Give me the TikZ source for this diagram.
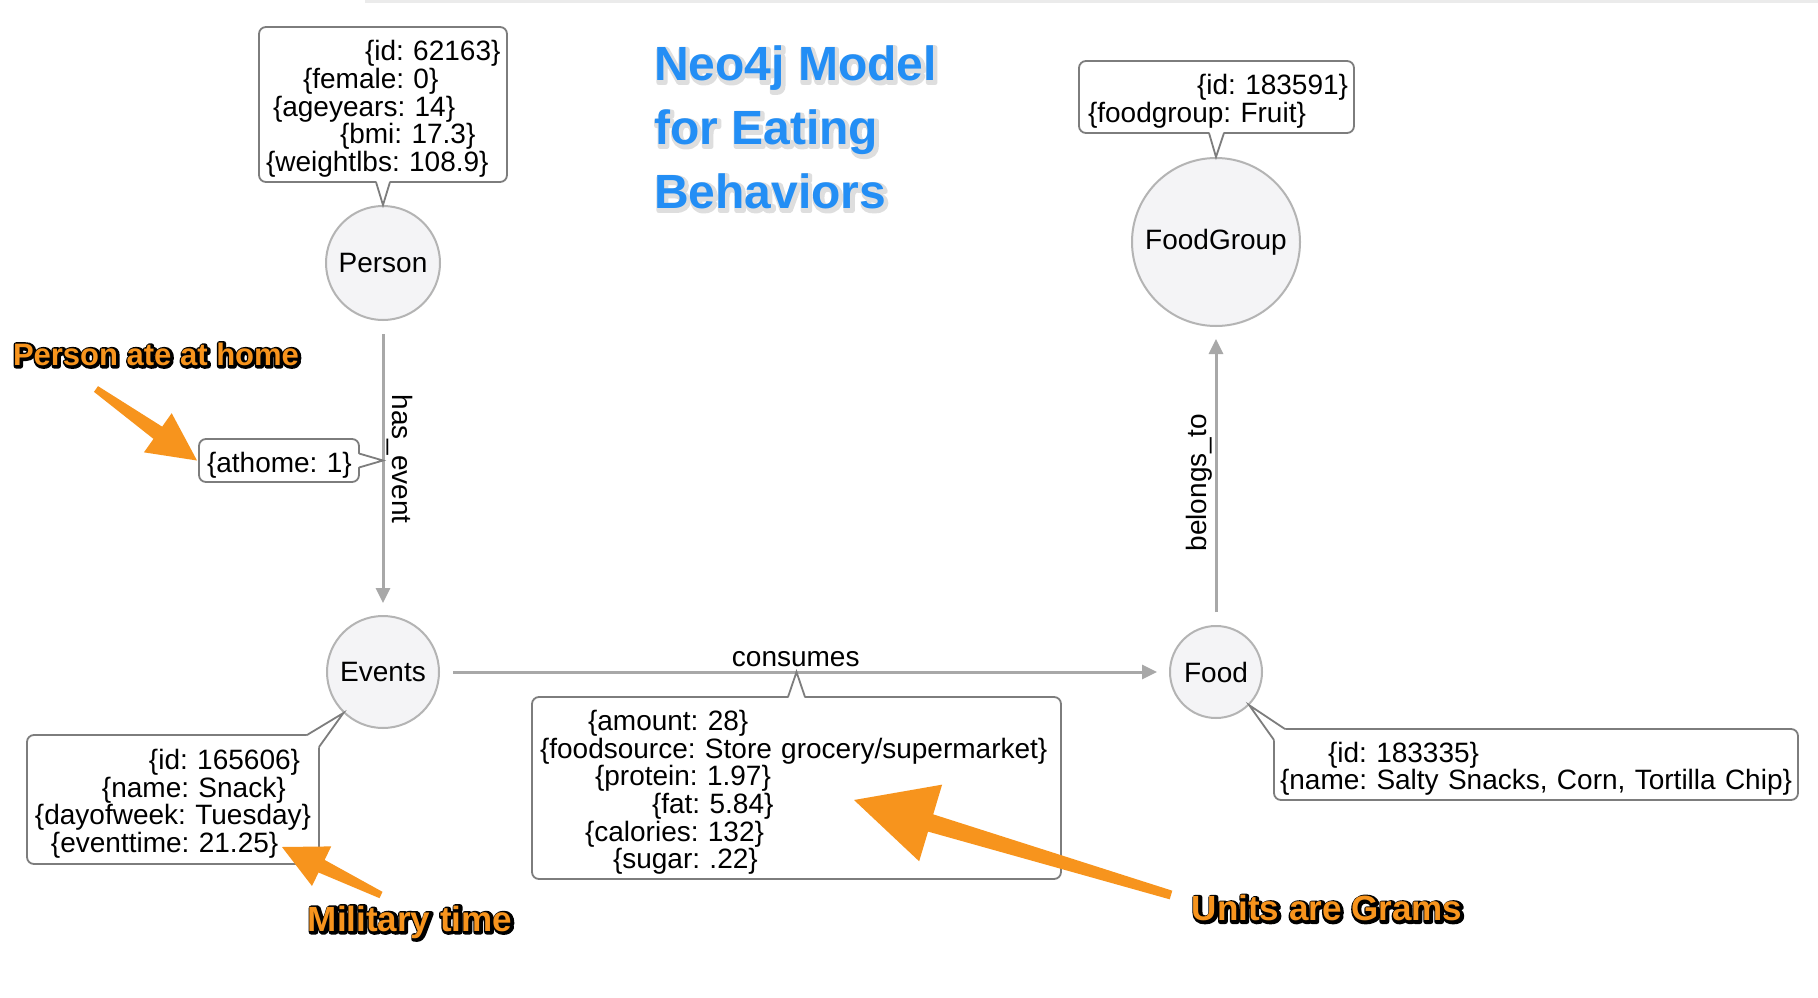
\documentclass[tikz,border=0pt]{standalone}
\usepackage{fontspec}
\setmainfont{Liberation Sans}
\usetikzlibrary{calc,arrows.meta}

\definecolor{nodefill}{RGB}{244,244,246}
\definecolor{nodeline}{RGB}{180,180,180}
\definecolor{relgray}{RGB}{168,168,168}
\definecolor{propgray}{RGB}{125,125,125}
\definecolor{noteorange}{RGB}{247,148,29}
\definecolor{titleblue}{RGB}{35,142,245}

\newcommand\propfont{\fontsize{28}{27.7}\selectfont\frenchspacing}
\newcommand\pl[2]{\hspace*{#1pt}\mbox{#2}}
\newcommand\fl{\rule{0pt}{29pt}}
\newcommand\edgetext[1]{\special{pdf:literal direct 2 Tr 5 w 1 j 0 0 0 RG}#1}
\newcommand\halotext{\special{pdf:literal direct 2 Tr 5 w 1 j 0.87 G}}
\newcommand\pointer[3]{%
	\fill[white] ($(#1)!2pt!90:(#2)$) -- (#3) -- ($(#2)!2pt!-90:(#1)$) -- cycle;
	\draw[propedge] (#1) -- (#3) -- (#2);}
\newcommand\notearrow[6]{%
	\coordinate (nk) at ($(#2)!#3!(#1)$);
	\fill[noteorange] ($(#1)!#6!90:(#2)$) -- ($(nk)!#5!90:(#2)$) -- ($(nk)!#4!90:(#2)$) -- (#2)
		-- ($(nk)!#4!-90:(#2)$) -- ($(nk)!#5!-90:(#2)$) -- ($(#1)!#6!-90:(#2)$) -- cycle;}

\begin{document}
\begin{tikzpicture}[x=1pt, y=-1pt, every node/.style={font=\propfont},
	entity/.style={circle, draw=nodeline, line width=2pt, fill=nodefill, inner sep=0pt},
	rel/.style={draw=relgray, line width=3pt, -{Triangle[length=15pt,width=14pt]}, shorten <=13pt, shorten >=12pt},
	props/.style={draw=propgray, line width=1.8pt, rounded corners=7pt, fill=white, align=left, anchor=north west, outer sep=0pt, inner ysep=0pt},
	propedge/.style={draw=propgray, line width=1.8pt},
	title/.style={anchor=north west, inner sep=0pt, align=left, font=\fontsize{48}{64}\selectfont\bfseries},
	note/.style={text=noteorange, font=\fontsize{35}{40}\selectfont\bfseries},
	noteedge/.style={note, text=black, xshift=1pt, yshift=-1pt}]
	\useasboundingbox (0,0) rectangle (1818,998);
	\fill[white] (0,0) rectangle (1818,998);
	\fill[black!8] (365,0) rectangle (1818,3);

	\node[title, text=black!12] (titlehalo) at (655.5,47.5) {\halotext Neo4j Model\\for Eating\\Behaviors};
	\node[title, text=titleblue] (title) at (654,46) {Neo4j Model\\for Eating\\Behaviors};

	\node[entity, minimum size=114pt] (Person) at (383,263) {Person};
	\node[entity, minimum size=168pt] (FoodGroup) at (1216,242) {FoodGroup};
	\node[entity, minimum size=112pt] (Events) at (383,672) {Events};
	\node[entity, minimum size=92pt] (Food) at (1216,672) {Food};

	\draw[rel] (Person) -- node[rotate=-90, anchor=south, inner sep=2pt, pos=0.47] (hasevent) {has\_event} (Events);
	\draw[rel] (Events) -- node[above, pos=0.488] (consumes) {consumes} (Food);
	\draw[rel] (Food) -- node[rotate=90, anchor=south, inner sep=2pt, pos=0.477] (belongsto) {belongs\_to} (FoodGroup);

	\node[props, text width=234pt, inner xsep=7pt, minimum height=155pt] (pbox) at (259,27)
		{\pl{99}{\fl\{id: 62163\}}\\\pl{37}{\{female: 0\}}\\\pl{7}{\{ageyears: 14\}}\\\pl{74}{\{bmi: 17.3\}}\\\pl{0}{\{weightlbs: 108.9\}}};
	\node[props, text width=257pt, inner xsep=9pt, minimum height=72pt] (gbox) at (1079,61)
		{\pl{109}{\fl\{id: 183591\}}\\\pl{0}{\{foodgroup: Fruit\}}};
	\node[props, text width=144pt, inner xsep=8pt, minimum height=43pt] (abox) at (199,439) {\pl{0}{\fl\{athome: 1\}}};
	\node[props, text width=278pt, inner xsep=7pt, minimum height=129pt] (ebox) at (27,735)
		{\pl{115}{\fl\{id: 165606\}}\\\pl{68}{\{name: Snack\}}\\\pl{1}{\{dayofweek: Tuesday\}}\\\pl{17}{\{eventtime: 21.25\}}};
	\node[props, text width=513pt, inner xsep=8pt, minimum height=182pt] (cbox) at (532,697)
		{\pl{48}{\fl\{amount: 28\}}\\\pl{0}{\{foodsource: Store grocery/supermarket\}}\\\pl{55}{\{protein: 1.97\}}\\\pl{112}{\{fat: 5.84\}}\\\pl{45}{\{calories: 132\}}\\\pl{73}{\{sugar: .22\}}};
	\node[props, text width=512pt, inner xsep=6pt, minimum height=71pt] (fbox) at (1274,729)
		{\pl{48}{\fl\{id: 183335\}}\\\pl{0}{\{name: Salty Snacks, Corn, Tortilla Chip\}}};

	\coordinate (p1) at ($(pbox.south)+(-7,0)$);
	\coordinate (p2) at ($(pbox.south)+(7,0)$);
	\pointer{p1}{p2}{Person.north}
	\coordinate (g1) at ($(gbox.south)+(-7.5,0)$);
	\coordinate (g2) at ($(gbox.south)+(7.5,0)$);
	\pointer{g1}{g2}{FoodGroup.north}
	\coordinate (a1) at ($(abox.east)+(0,7)$);
	\coordinate (a2) at ($(abox.east)+(0,-7)$);
	\pointer{a1}{a2}{Person |- abox.east}
	\coordinate (e1) at ($(ebox.north east)+(0,12)$);
	\coordinate (e2) at ($(ebox.north east)+(-12,0)$);
	\pointer{e1}{e2}{Events.226}
	\coordinate (f1) at ($(fbox.north west)+(11,0)$);
	\coordinate (f2) at ($(fbox.north west)+(0,11)$);
	\pointer{f1}{f2}{Food.-45}
	\coordinate (c1) at ($(cbox.north)+(8.5,0)$);
	\coordinate (c2) at ($(cbox.north)+(-8.5,0)$);
	\pointer{c1}{c2}{cbox.north |- Events}

	\node[noteedge, font=\fontsize{31}{36}\selectfont\bfseries] (homeedge) at (156,354) {\edgetext{Person ate at home}};
	\node[note, font=\fontsize{31}{36}\selectfont\bfseries] (homenote) at (156,354) {Person ate at home};
	\node[noteedge] (timeedge) at (410,922) {\edgetext{Military time}};
	\node[note] (timenote) at (410,922) {Military time};
	\node[noteedge] (unitedge) at (1327,908) {\edgetext{Units are Grams}};
	\node[note] (unitnote) at (1327,908) {Units are Grams};

	\coordinate (homeTail) at (96,389);
	\coordinate (homeTip) at ($(abox.west)+(-2,0)$);
	\notearrow{homeTail}{homeTip}{48pt}{24pt}{7.5pt}{3.5pt}
	\coordinate (timeTail) at (381,895);
	\coordinate (timeTip) at (282,847);
	\notearrow{timeTail}{timeTip}{44pt}{22pt}{7pt}{3.5pt}
	\coordinate (unitTail) at (1171,895);
	\coordinate (unitTip) at (854,800);
	\notearrow{unitTail}{unitTip}{80pt}{40pt}{9pt}{4.5pt}
\end{tikzpicture}
\end{document}
